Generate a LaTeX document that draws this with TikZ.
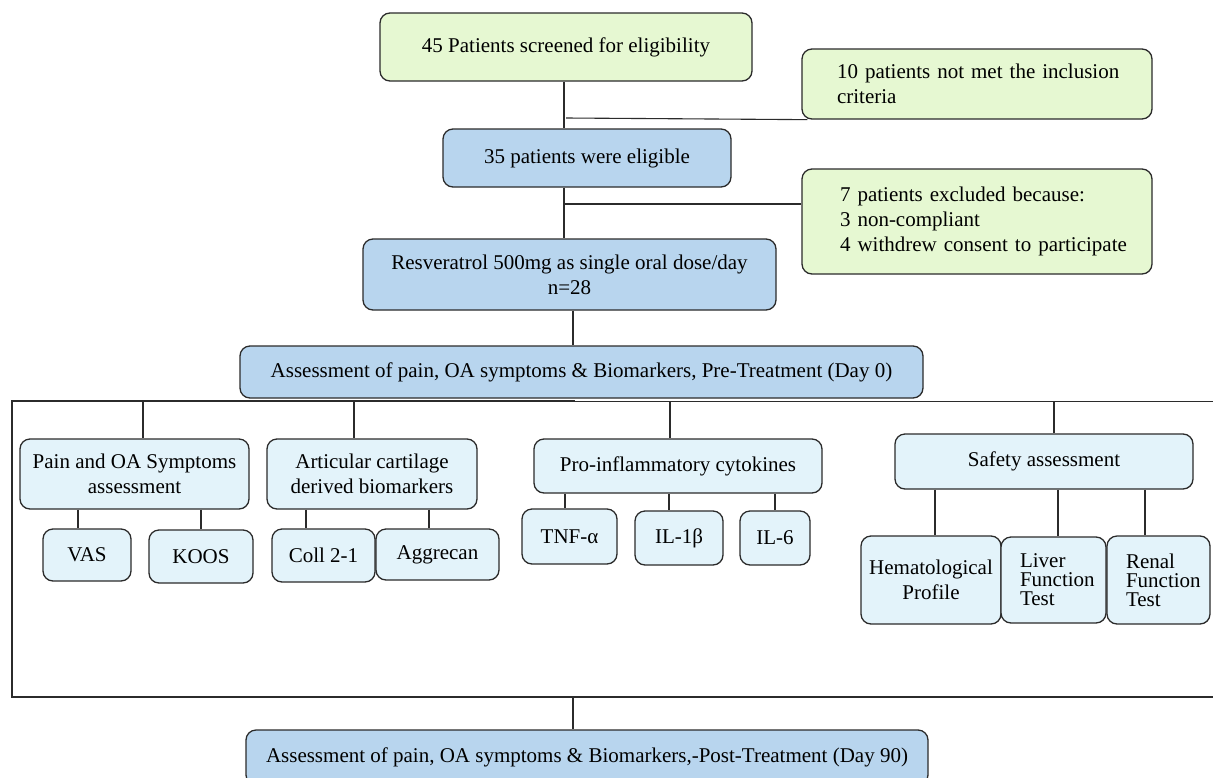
\documentclass[tikz,border=0pt]{standalone}
\usepackage{fontspec}
\setmainfont{Liberation Serif}
\definecolor{gfill}{HTML}{E6F8D2}
\definecolor{bfill}{HTML}{B8D5EE}
\definecolor{lfill}{HTML}{E3F3FA}
\definecolor{edgec}{HTML}{2B2B2B}
\newcommand{\mybox}[7]{%
  \node[#2, minimum width={#5-#3}, minimum height={#6-#4}] (#1) at ({(#3+#5)/2},{(#4+#6)/2}) {#7};}
\newcommand{\vlink}[3]{\coordinate (tmpx) at (#3,0); \draw[conn] (#1.south -| tmpx) -- (#2.north -| tmpx);}
\begin{document}
\begin{tikzpicture}[x=1pt,y=-1pt,
  box/.style={draw=edgec, line width=1.3pt, rounded corners=10pt, inner sep=0pt,
    font=\fontsize{21}{25}\selectfont, align=center},
  gbox/.style={box, fill=gfill},
  bbox/.style={box, fill=bfill},
  lbox/.style={box, fill=lfill},
  conn/.style={draw=edgec, line width=1.1pt},
  frame/.style={draw=edgec, line width=1.6pt}]
\useasboundingbox (0,0) rectangle (1213,777);
\clip (0,0) rectangle (1213,777);
% top flow
\mybox{screen}{gbox}{380}{13}{752}{81}{45 Patients screened for eligibility}
\mybox{elig}{bbox}{443}{129}{731}{187}{35 patients were eligible}
\mybox{notmet}{gbox, align=left, text width=280}{802}{49}{1152}{119}{\mbox{10 patients not met the inclusion}\\\mbox{criteria}}
\mybox{excl}{gbox, align=left, text width=274}{802}{169}{1152}{274}{\mbox{7 patients excluded because:}\\\mbox{3 non-compliant}\\\mbox{4 withdrew consent to participate}}
\mybox{resv}{bbox}{363}{239}{776}{310}{Resveratrol 500mg as single oral dose/day\\n=28}
\mybox{pre}{bbox}{240}{346}{923}{398}{Assessment of pain, OA symptoms \& Biomarkers, Pre-Treatment (Day 0)}
% categories
\mybox{pain}{lbox}{20}{439}{249}{509}{Pain and OA Symptoms\\assessment}
\mybox{artic}{lbox}{267}{439}{477}{509}{Articular cartilage\\derived biomarkers}
\mybox{cyto}{lbox}{534}{439}{822}{493}{Pro-inflammatory cytokines}
\mybox{safety}{lbox}{895}{434}{1193}{489}{Safety assessment}
% leaves
\mybox{vas}{lbox}{43}{529}{131}{581}{VAS}
\mybox{koos}{lbox}{149}{530}{253}{583}{KOOS}
\mybox{coll}{lbox}{272}{529}{375}{582}{Coll 2-1}
\mybox{aggre}{lbox}{376}{529}{499}{580}{Aggrecan}
\mybox{tnf}{lbox}{522}{509}{617}{564}{TNF-α}
\mybox{ilb}{lbox}{635}{511}{723}{565}{IL-1β}
\mybox{ils}{lbox}{740}{511}{810}{565}{IL-6}
\mybox{hema}{lbox}{861}{536}{1001}{624}{Hematological\\Profile}
\mybox{liver}{lbox, align=left, text width=67, font=\fontsize{21}{19}\selectfont}{1001}{537}{1106}{623}{\mbox{Liver}\\\mbox{Function}\\\mbox{Test}}
\mybox{renal}{lbox, align=left, text width=65, font=\fontsize{21}{19}\selectfont}{1107}{536}{1210}{624}{\mbox{Renal}\\\mbox{Function}\\\mbox{Test}}
\mybox{post}{bbox}{246}{730}{928}{785}{Assessment of pain, OA symptoms \& Biomarkers,-Post-Treatment (Day 90)}
% top connectors
\coordinate (xa) at (564,0);
\draw[conn] (screen.south -| xa) -- (elig.north -| xa);
\coordinate (j1) at (566,118);
\draw[conn] (j1) -- ([xshift=6pt]notmet.south west);
\draw[conn] (elig.south -| xa) -- (resv.north -| xa);
\coordinate (j2) at (564,204);
\draw[conn] (j2) -- (j2 -| excl.west);
\vlink{resv}{pre}{573}
% frame
\coordinate (fTL) at (12,401);
\coordinate (fBL) at (12,697);
\coordinate (fTR) at (1213,401);
\coordinate (fBR) at (1213,697);
\coordinate (fTM) at (575,401);
\draw[draw=edgec, line width=1.0pt] (fTR) -- (fTM);
\draw[frame] (fTM) -- (fTL) -- (fBL) -- (fBR);
% drops from frame
\coordinate (d1) at (143,401);
\coordinate (d2) at (354,401);
\coordinate (d3) at (670,401);
\coordinate (d4) at (1054,401);
\draw[conn] (d1) -- (d1 |- pain.north);
\draw[conn] (d2) -- (d2 |- artic.north);
\draw[conn] (d3) -- (d3 |- cyto.north);
\draw[conn] (d4) -- (d4 |- safety.north);
% sub links
\vlink{pain}{vas}{78}
\vlink{pain}{koos}{201}
\vlink{artic}{coll}{306}
\vlink{artic}{aggre}{429}
\vlink{cyto}{tnf}{565}
\vlink{cyto}{ilb}{669}
\vlink{cyto}{ils}{775}
\vlink{safety}{hema}{935}
\vlink{safety}{liver}{1058}
\vlink{safety}{renal}{1145}
% to post
\coordinate (pb) at (573,697);
\draw[conn] (pb) -- (pb |- post.north);
\end{tikzpicture}
\end{document}
